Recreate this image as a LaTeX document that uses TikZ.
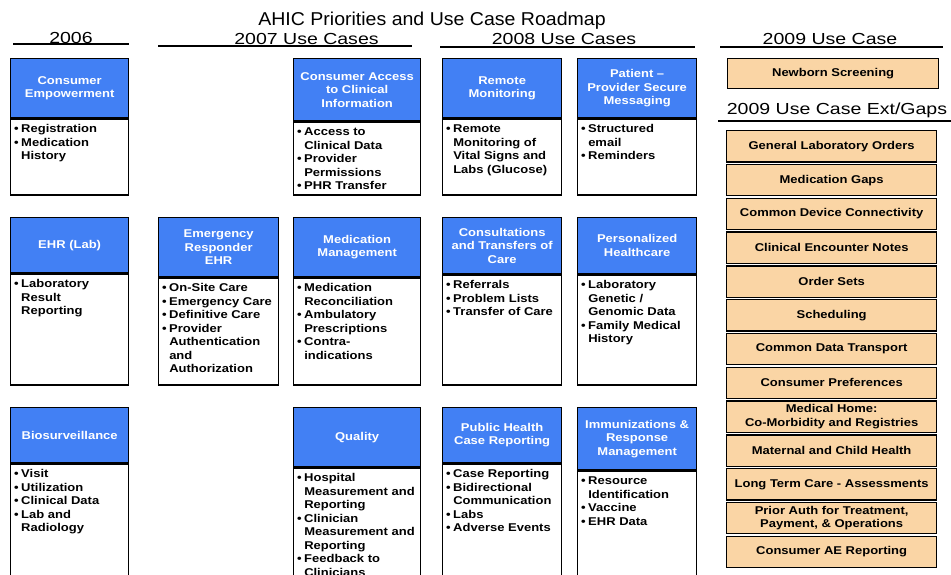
\documentclass[tikz,border=0pt]{standalone}
\usepackage{fontspec}
\setmainfont{Liberation Sans}
\newfontfamily\ttlfont[FakeStretch=1.05]{Liberation Sans}
\newfontfamily\colfont[FakeStretch=1.22]{Liberation Sans}
\newfontfamily\boxfont[FakeStretch=1.15]{Liberation Sans}
\definecolor{caseblue}{RGB}{66,128,244}
\definecolor{gappeach}{RGB}{250,213,165}
\newcommand{\bul}{\textbullet}
\newcommand{\caselines}[1]{\begin{tabular}{@{}l@{\hspace{2.5pt}}l@{}}#1\end{tabular}}
\tikzset{
        title/.style={anchor=base, font=\ttlfont\fontsize{18.6}{20}\selectfont},
        colhead/.style={anchor=base, font=\colfont\fontsize{16}{18}\selectfont},
        rule/.style={line width=2pt},
        casehead/.style={draw=black, line width=1.3pt, fill=caseblue, text=white, anchor=north west,
                align=center, inner sep=1pt, font=\boxfont\bfseries\fontsize{11.3}{13.5}\selectfont},
        casebody/.style={draw=black, line width=1.3pt, fill=white, anchor=north west, inner sep=0pt},
        caselist/.style={anchor=north west, inner sep=0pt, font=\boxfont\bfseries\fontsize{11.3}{13.5}\selectfont},
        gapbox/.style={draw=black, line width=1.3pt, fill=gappeach, anchor=north west, minimum width=210,
                minimum height=31.3, align=center, inner sep=1pt, font=\boxfont\bfseries\fontsize{11.3}{13.5}\selectfont}
}
\begin{document}
\begin{tikzpicture}[x=1pt,y=-1pt]
        \useasboundingbox (0,0) rectangle (951,575);
        \clip (0,0) rectangle (951,575);
        \node[title] (roadmap) at (432,25.5) {AHIC Priorities and Use Case Roadmap};
        \node[colhead] (y2006) at (71,44) {2006};
        \node[colhead] (y2007) at (306.5,44.5) {2007 Use Cases};
        \node[colhead] (y2008) at (564,44.5) {2008 Use Cases};
        \node[colhead] (y2009) at (830,44.5) {2009 Use Case};
        \node[colhead] (y2009ext) at (837,115) {2009 Use Case Ext/Gaps};
        \draw[rule] (13,44.5) -- (129,44.5);
        \draw[rule] (158,46) -- (412,46);
        \draw[rule] (440,47) -- (695,47);
        \draw[rule] (720,47) -- (943,47);
        \draw[rule] (718,121) -- (951,121);

        \node[casehead, minimum width=118, minimum height=59] (empower) at (10,58) {Consumer\\Empowerment};
        \node[casebody, minimum width=118, minimum height=76] (empowerBody) at (empower.south west) {};
        \node[caselist] (empowerList) at ([xshift=4pt,yshift=-5pt]empower.south west)
                {\caselines{\bul&Registration\\\bul&Medication\\&History}};

        \node[casehead, minimum width=127, minimum height=62] (access) at (293,58) {Consumer Access\\to Clinical\\Information};
        \node[casebody, minimum width=127, minimum height=73] (accessBody) at (access.south west) {};
        \node[caselist] (accessList) at ([xshift=4pt,yshift=-5pt]access.south west)
                {\caselines{\bul&Access to\\&Clinical Data\\\bul&Provider\\&Permissions\\\bul&PHR Transfer}};

        \node[casehead, minimum width=119, minimum height=59] (remote) at (442,58) {Remote\\Monitoring};
        \node[casebody, minimum width=119, minimum height=76] (remoteBody) at (remote.south west) {};
        \node[caselist] (remoteList) at ([xshift=4pt,yshift=-5pt]remote.south west)
                {\caselines{\bul&Remote\\&Monitoring of\\&Vital Signs and\\&Labs (Glucose)}};

        \node[casehead, minimum width=119, minimum height=59] (messaging) at (577,58) {Patient \textendash\\Provider Secure\\Messaging};
        \node[casebody, minimum width=119, minimum height=76] (messagingBody) at (messaging.south west) {};
        \node[caselist] (messagingList) at ([xshift=4pt,yshift=-5pt]messaging.south west)
                {\caselines{\bul&Structured\\&email\\\bul&Reminders}};

        \node[casehead, minimum width=118, minimum height=55] (ehrlab) at (10,217) {EHR (Lab)};
        \node[casebody, minimum width=118, minimum height=111] (ehrlabBody) at (ehrlab.south west) {};
        \node[caselist] (ehrlabList) at ([xshift=4pt,yshift=-5pt]ehrlab.south west)
                {\caselines{\bul&Laboratory\\&Result\\&Reporting}};

        \node[casehead, minimum width=120, minimum height=59] (emergency) at (158,217) {Emergency\\Responder\\EHR};
        \node[casebody, minimum width=120, minimum height=107] (emergencyBody) at (emergency.south west) {};
        \node[caselist] (emergencyList) at ([xshift=4pt,yshift=-5pt]emergency.south west)
                {\caselines{\bul&On-Site Care\\\bul&Emergency Care\\\bul&Definitive Care\\\bul&Provider\\&Authentication\\&and\\&Authorization}};

        \node[casehead, minimum width=127, minimum height=59] (medmgmt) at (293,217) {Medication\\Management};
        \node[casebody, minimum width=127, minimum height=107] (medmgmtBody) at (medmgmt.south west) {};
        \node[caselist] (medmgmtList) at ([xshift=4pt,yshift=-5pt]medmgmt.south west)
                {\caselines{\bul&Medication\\&Reconciliation\\\bul&Ambulatory\\&Prescriptions\\\bul&Contra-\\&indications}};

        \node[casehead, minimum width=119, minimum height=56] (consult) at (442,217) {Consultations\\and Transfers of\\Care};
        \node[casebody, minimum width=119, minimum height=110] (consultBody) at (consult.south west) {};
        \node[caselist] (consultList) at ([xshift=4pt,yshift=-5pt]consult.south west)
                {\caselines{\bul&Referrals\\\bul&Problem Lists\\\bul&Transfer of Care}};

        \node[casehead, minimum width=119, minimum height=56] (personal) at (577,217) {Personalized\\Healthcare};
        \node[casebody, minimum width=119, minimum height=110] (personalBody) at (personal.south west) {};
        \node[caselist] (personalList) at ([xshift=4pt,yshift=-5pt]personal.south west)
                {\caselines{\bul&Laboratory\\&Genetic /\\&Genomic Data\\\bul&Family Medical\\&History}};

        \node[casehead, minimum width=118, minimum height=55] (bio) at (10,407) {Biosurveillance};
        \node[casebody, minimum width=118, minimum height=130] (bioBody) at (bio.south west) {};
        \node[caselist] (bioList) at ([xshift=4pt,yshift=-5pt]bio.south west)
                {\caselines{\bul&Visit\\\bul&Utilization\\\bul&Clinical Data\\\bul&Lab and\\&Radiology}};

        \node[casehead, minimum width=127, minimum height=59] (quality) at (293,407) {Quality};
        \node[casebody, minimum width=127, minimum height=130] (qualityBody) at (quality.south west) {};
        \node[caselist] (qualityList) at ([xshift=4pt,yshift=-5pt]quality.south west)
                {\caselines{\bul&Hospital\\&Measurement and\\&Reporting\\\bul&Clinician\\&Measurement and\\&Reporting\\\bul&Feedback to\\&Clinicians}};

        \node[casehead, minimum width=119, minimum height=55] (pubhealth) at (442,407) {Public Health\\Case Reporting};
        \node[casebody, minimum width=119, minimum height=130] (pubhealthBody) at (pubhealth.south west) {};
        \node[caselist] (pubhealthList) at ([xshift=4pt,yshift=-5pt]pubhealth.south west)
                {\caselines{\bul&Case Reporting\\\bul&Bidirectional\\&Communication\\\bul&Labs\\\bul&Adverse Events}};

        \node[casehead, minimum width=119, minimum height=62] (immun) at (577,407) {Immunizations \&\\Response\\Management};
        \node[casebody, minimum width=119, minimum height=130] (immunBody) at (immun.south west) {};
        \node[caselist] (immunList) at ([xshift=4pt,yshift=-5pt]immun.south west)
                {\caselines{\bul&Resource\\&Identification\\\bul&Vaccine\\\bul&EHR Data}};

        \node[gapbox, minimum width=211, minimum height=30] (newborn) at (727,58) {Newborn Screening};
        \node[gapbox] (gap1) at (726,130) {General Laboratory Orders};
        \node[gapbox] (gap2) at (726,163.8) {Medication Gaps};
        \node[gapbox] (gap3) at (726,197.6) {Common Device Connectivity};
        \node[gapbox] (gap4) at (726,231.4) {Clinical Encounter Notes};
        \node[gapbox] (gap5) at (726,265.2) {Order Sets};
        \node[gapbox] (gap6) at (726,299) {Scheduling};
        \node[gapbox] (gap7) at (726,332.8) {Common Data Transport};
        \node[gapbox] (gap8) at (726,366.6) {Consumer Preferences};
        \node[gapbox] (gap9) at (726,400.4) {Medical Home:\\Co-Morbidity and Registries};
        \node[gapbox] (gap10) at (726,434.2) {Maternal and Child Health};
        \node[gapbox] (gap11) at (726,468) {Long Term Care - Assessments};
        \node[gapbox] (gap12) at (726,501.8) {Prior Auth for Treatment,\\Payment, \& Operations};
        \node[gapbox] (gap13) at (726,535.6) {Consumer AE Reporting};
\end{tikzpicture}
\end{document}
